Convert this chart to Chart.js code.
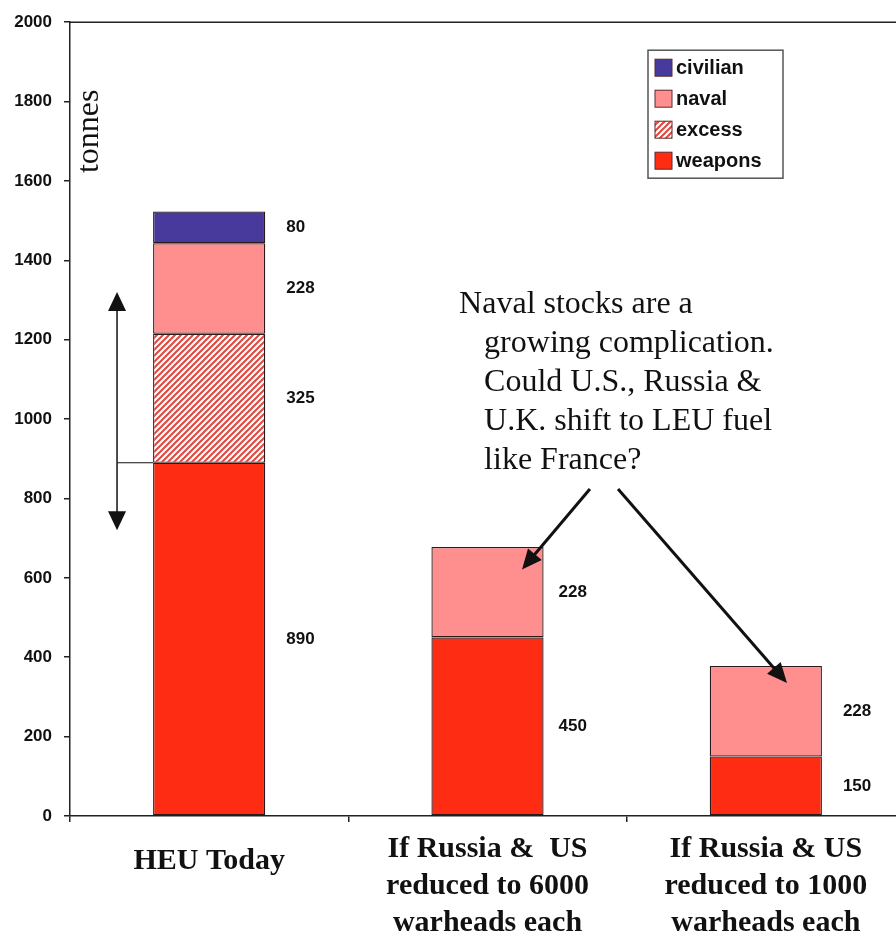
<!DOCTYPE html>
<html>
<head>
<meta charset="utf-8">
<script src="https://cdn.jsdelivr.net/npm/chart.js@4/dist/chart.umd.min.js"></script>
<style>
  html, body { margin: 0; padding: 0; background: #fff; overflow: hidden; width: 896px; height: 941px; }
  #wrap { position: absolute; left: 0; top: 0; width: 910px; height: 941px; }
</style>
</head>
<body>
<div id="wrap"><canvas id="c" width="910" height="941"></canvas></div>
<script>
// HEU stocks (tonnes) today and under two warhead-reduction scenarios
const categories = [
  ["HEU Today"],
  ["If Russia &  US", "reduced to 6000", "warheads each"],
  ["If Russia & US", "reduced to 1000", "warheads each"]
];
const weapons  = [890, 450, 150];
const excess   = [325, null, null];
const naval    = [228, 228, 228];
const civilian = [80, null, null];
const yTicks = [0, 200, 400, 600, 800, 1000, 1200, 1400, 1600, 1800, 2000];

const note = [
  "Naval stocks are a",
  "growing complication.",
  "Could U.S., Russia &",
  "U.K. shift to LEU fuel",
  "like France?"
];

const SERIF = '"Liberation Serif", "Times New Roman", Times, serif';
const SANS = '"Liberation Sans", Arial, Helvetica, sans-serif';

// diagonal red/white stripes for the "excess" segment
function stripes() {
  const s = 6;
  const c = document.createElement('canvas');
  c.width = s; c.height = s;
  const g = c.getContext('2d');
  g.fillStyle = '#ffffff';
  g.fillRect(0, 0, s, s);
  g.strokeStyle = '#e2463e';
  g.lineWidth = 2;
  g.beginPath();
  g.moveTo(0, s); g.lineTo(s, 0);
  g.moveTo(-1, 1); g.lineTo(1, -1);
  g.moveTo(s - 1, s + 1); g.lineTo(s + 1, s - 1);
  g.stroke();
  return g.createPattern(c, 'repeat');
}

function arrow(g, x1, y1, x2, y2, lw, hl, hw) {
  const a = Math.atan2(y2 - y1, x2 - x1);
  const ca = Math.cos(a), sa = Math.sin(a);
  g.lineWidth = lw;
  g.beginPath();
  g.moveTo(x1, y1);
  g.lineTo(x2 - ca * hl * 0.7, y2 - sa * hl * 0.7);
  g.stroke();
  g.beginPath();
  g.moveTo(x2, y2);
  g.lineTo(x2 - hl * ca + hw * sa, y2 - hl * sa - hw * ca);
  g.lineTo(x2 - hl * ca - hw * sa, y2 - hl * sa + hw * ca);
  g.closePath();
  g.fill();
}

const extras = {
  id: 'extras',
  afterDatasetsDraw(chart) {
    const g = chart.ctx;
    const xs = chart.scales.x, ys = chart.scales.y;
    const area = chart.chartArea;
    g.save();

    // top frame line at the axis maximum
    g.strokeStyle = '#222';
    g.lineWidth = 1.5;
    g.beginPath();
    g.moveTo(area.left, ys.getPixelForValue(2000));
    g.lineTo(area.right, ys.getPixelForValue(2000));
    g.stroke();

    // segment value labels beside each bar
    g.fillStyle = '#111';
    g.font = 'bold 17px ' + SANS;
    g.textAlign = 'left';
    g.textBaseline = 'middle';
    chart.data.datasets.forEach((ds, di) => {
      const meta = chart.getDatasetMeta(di);
      ds.data.forEach((v, i) => {
        if (v === null || v === undefined) return;
        const el = meta.data[i];
        const right = el.x + el.width / 2;
        g.fillText(String(v), right + (i === 1 ? 15 : 21), (el.y + el.base) / 2);
      });
    });

    // uncertainty arrow beside today's weapons stock
    const bar0 = chart.getDatasetMeta(0).data[0];
    const ax = xs.getPixelForValue(-0.331);
    const yTop = ys.getPixelForValue(1320);
    const yBot = ys.getPixelForValue(720);
    const yMid = ys.getPixelForValue(weapons[0]);
    g.strokeStyle = '#111';
    g.fillStyle = '#111';
    arrow(g, ax, yMid, ax, yTop, 1.5, 19, 9);
    arrow(g, ax, yMid, ax, yBot, 1.5, 19, 9);
    g.lineWidth = 1.2;
    g.beginPath();
    g.moveTo(ax, yMid);
    g.lineTo(bar0.x - bar0.width / 2, yMid);
    g.stroke();

    // callout text
    g.fillStyle = '#111';
    g.font = '32px ' + SERIF;
    g.textBaseline = 'alphabetic';
    const tx = xs.getPixelForValue(0.898);
    const ty = ys.getPixelForValue(1267);
    note.forEach((line, i) => {
      g.fillText(line, tx + (i === 0 ? 0 : 25), ty + i * 39);
    });

    // callout arrows to the naval segments
    arrow(g, xs.getPixelForValue(1.368), ys.getPixelForValue(824),
             xs.getPixelForValue(1.124), ys.getPixelForValue(621), 3, 20, 9);
    arrow(g, xs.getPixelForValue(1.469), ys.getPixelForValue(824),
             xs.getPixelForValue(2.076), ys.getPixelForValue(335), 3, 20, 9);

    // axis title
    g.save();
    g.translate(area.left + 28, ys.getPixelForValue(1725));
    g.rotate(-Math.PI / 2);
    g.textAlign = 'center';
    g.font = '32px ' + SERIF;
    g.fillText('tonnes', 0, 0);
    g.restore();

    // legend box (top segment first)
    const items = chart.data.datasets.slice().reverse();
    const bx = area.right - 257, by = area.top + 28, bw = 135, bh = 128;
    g.fillStyle = '#fff';
    g.fillRect(bx, by, bw, bh);
    g.strokeStyle = '#555';
    g.lineWidth = 1.5;
    g.strokeRect(bx, by, bw, bh);
    g.font = 'bold 20px ' + SANS;
    g.textBaseline = 'middle';
    g.textAlign = 'left';
    items.forEach((ds, i) => {
      const cy = by + 17 + i * 31;
      g.fillStyle = ds.backgroundColor;
      g.fillRect(bx + 7, cy - 8, 17, 17);
      g.strokeStyle = '#5a2a2a';
      g.lineWidth = 1;
      g.strokeRect(bx + 7, cy - 8, 17, 17);
      g.fillStyle = '#111';
      g.fillText(ds.label, bx + 28, cy + 1);
    });

    g.restore();
  }
};

const common = {
  borderColor: '#2a1a1a',
  borderWidth: 1.3,
  borderSkipped: false,
  categoryPercentage: 1,
  barPercentage: 0.403
};

new Chart(document.getElementById('c'), {
  type: 'bar',
  data: {
    labels: categories,
    datasets: [
      Object.assign({ label: 'weapons',  data: weapons,  backgroundColor: '#ff2c14' }, common),
      Object.assign({ label: 'excess',   data: excess,   backgroundColor: stripes() }, common),
      Object.assign({ label: 'naval',    data: naval,    backgroundColor: '#ff8f8f' }, common),
      Object.assign({ label: 'civilian', data: civilian, backgroundColor: '#473a9c' }, common)
    ]
  },
  options: {
    responsive: false,
    animation: false,
    devicePixelRatio: 1,
    layout: { padding: { top: 17, right: 5, left: 0, bottom: 0 } },
    plugins: { legend: { display: false }, tooltip: { enabled: false } },
    scales: {
      x: {
        stacked: true,
        grid: { display: true, drawOnChartArea: false, drawTicks: true, tickLength: 6, color: '#222', lineWidth: 1.5 },
        border: { display: true, color: '#222', width: 1.5 },
        ticks: {
          color: '#111',
          padding: 9,
          maxRotation: 0,
          autoSkip: false,
          font: (c) => ({ family: SERIF, size: 30, weight: 'bold', lineHeight: c.index === 0 ? 61 / 30 : 37 / 30 })
        },
        afterFit: (s) => { s.height = 125; }
      },
      y: {
        stacked: true,
        min: 0,
        max: 2000,
        afterBuildTicks: (s) => { s.ticks = yTicks.map(v => ({ value: v })); },
        ticks: {
          color: '#111',
          padding: 12,
          font: { family: SANS, size: 17, weight: 'bold' },
          callback: (v) => String(v)
        },
        grid: { drawOnChartArea: false, drawTicks: true, tickLength: 6, color: '#222', lineWidth: 1.5 },
        border: { display: true, color: '#222', width: 1.5 },
        afterFit: (s) => { s.width = 70; }
      }
    }
  },
  plugins: [extras]
});
</script>
</body>
</html>
